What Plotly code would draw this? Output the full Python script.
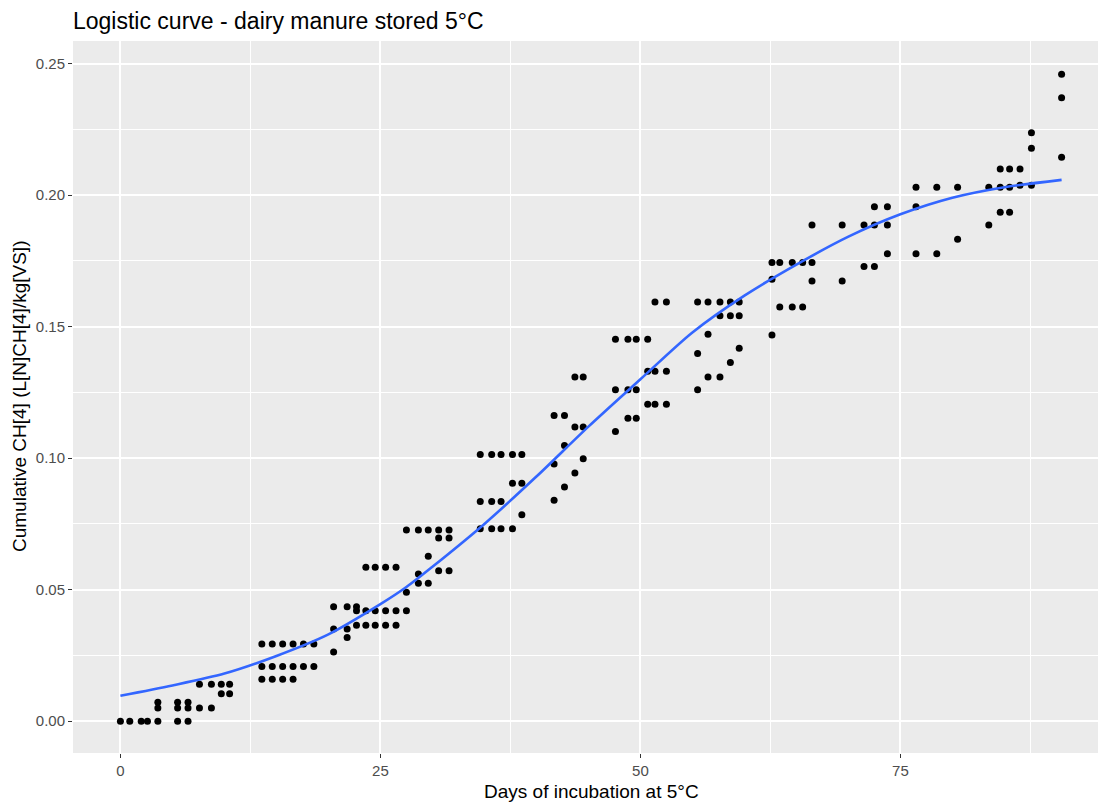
import plotly.graph_objects as go

# ---- data ----
days = [
    0, 0.9, 2.0, 2.6,
    3.6, 3.6, 3.6, 5.5, 5.5, 5.5, 6.5, 6.5, 6.5,
    7.6, 7.6, 8.75, 8.75, 9.7, 9.7, 10.5, 10.5,
    13.6, 13.6, 13.6, 14.6, 14.6, 14.6, 15.6, 15.6, 15.6, 16.6, 16.6, 16.6,
    17.6, 17.6, 18.6, 18.6,
    20.5, 20.5, 20.5, 21.8, 21.8, 21.8, 22.7, 22.7, 22.7,
    23.6, 23.6, 23.6, 24.5, 24.5, 24.5, 25.5, 25.5, 25.5, 26.5, 26.5, 26.5,
    27.5, 27.5, 27.5, 28.65, 28.65, 28.65, 29.6, 29.6, 29.6,
    30.6, 30.6, 30.6, 31.6, 31.6, 31.6,
    34.6, 34.6, 34.6, 35.7, 35.7, 35.7, 36.6, 36.6, 36.6,
    37.7, 37.7, 37.7, 38.6, 38.6, 38.6,
    41.7, 41.7, 41.7, 42.7, 42.7, 42.7, 43.7, 43.7, 43.7, 44.5, 44.5, 44.5,
    47.6, 47.6, 47.6, 48.8, 48.8, 48.8, 49.6, 49.6, 49.6,
    50.7, 50.7, 50.7, 51.4, 51.4, 51.4, 52.5, 52.5, 52.5,
    55.5, 55.5, 55.5, 56.5, 56.5, 56.5, 57.65, 57.65, 57.65,
    58.65, 58.65, 58.65, 59.5, 59.5, 59.5,
    62.65, 62.65, 62.65, 63.4, 63.4, 64.6, 64.6, 65.6, 65.6,
    66.5, 66.5, 66.5, 69.4, 69.4, 71.5, 71.5,
    72.5, 72.5, 72.5, 73.75, 73.75, 73.75,
    76.5, 76.5, 76.5, 78.5, 78.5, 80.5, 80.5, 83.5, 83.5,
    84.6, 84.6, 84.6, 85.5, 85.5, 85.5, 86.5, 86.5,
    87.6, 87.6, 87.6, 90.5, 90.5, 90.5,
]
ch4 = [
    0, 0, 0, 0,
    0, 0.005, 0.0072, 0, 0.005, 0.0072, 0, 0.005, 0.0072,
    0.005, 0.014, 0.005, 0.014, 0.014, 0.0104, 0.014, 0.0104,
    0.0159, 0.0208, 0.0293, 0.0159, 0.0208, 0.0293, 0.0159, 0.0208, 0.0293, 0.0159, 0.0208, 0.0293,
    0.0208, 0.0293, 0.0208, 0.0293,
    0.0263, 0.035, 0.0435, 0.0318, 0.035, 0.0435, 0.0365, 0.042, 0.0435,
    0.0365, 0.042, 0.0585, 0.0365, 0.042, 0.0585, 0.0365, 0.042, 0.0585, 0.0365, 0.042, 0.0585,
    0.042, 0.049, 0.0727, 0.0524, 0.056, 0.0727, 0.0524, 0.0627, 0.0727,
    0.0572, 0.0696, 0.0727, 0.0572, 0.0696, 0.0727,
    0.0732, 0.0835, 0.1014, 0.0732, 0.0835, 0.1014, 0.0732, 0.0835, 0.1014,
    0.0732, 0.0905, 0.1014, 0.0785, 0.0905, 0.1014,
    0.084, 0.0978, 0.1162, 0.089, 0.1048, 0.1162, 0.0944, 0.1118, 0.1309, 0.0998, 0.1118, 0.1309,
    0.1101, 0.126, 0.1452, 0.1152, 0.126, 0.1452, 0.1152, 0.126, 0.1452,
    0.1205, 0.133, 0.1452, 0.1205, 0.133, 0.1594, 0.1205, 0.133, 0.1594,
    0.126, 0.1398, 0.1594, 0.1309, 0.1471, 0.1594, 0.1309, 0.1541, 0.1594,
    0.1364, 0.1541, 0.1594, 0.1418, 0.1541, 0.1594,
    0.1468, 0.168, 0.1744, 0.1575, 0.1744, 0.1575, 0.1744, 0.1575, 0.1744,
    0.1674, 0.1744, 0.1886, 0.1674, 0.1886, 0.1729, 0.1886,
    0.1729, 0.1886, 0.1956, 0.1777, 0.1886, 0.1956,
    0.1777, 0.1956, 0.203, 0.1777, 0.203, 0.1832, 0.203, 0.1886, 0.203,
    0.1935, 0.203, 0.2099, 0.1935, 0.203, 0.2099, 0.2038, 0.2099,
    0.2038, 0.2178, 0.2237, 0.2144, 0.237, 0.246,
]

# fitted logistic curve
curve_days = [0, 5, 10, 15, 20, 25, 27.5, 30, 35, 40, 45, 50, 55, 60, 65, 70, 75, 80, 85, 90.5]
curve_vals = [0.0097, 0.0136, 0.0181, 0.0248, 0.0330, 0.0445, 0.051, 0.0587, 0.075, 0.093,
              0.112, 0.130, 0.1478, 0.1618, 0.1736, 0.1842, 0.1927, 0.1990, 0.2030, 0.2058]

x_ticks = [0, 25, 50, 75]
y_ticks = [0.00, 0.05, 0.10, 0.15, 0.20, 0.25]
y_tick_text = ["0.00", "0.05", "0.10", "0.15", "0.20", "0.25"]

title_text = "Logistic curve - dairy manure stored 5°C"
x_title = "Days of incubation at 5°C"
y_title = "Cumulative CH[4] (L[N]CH[4]/kg[VS])"

FONT = "Liberation Sans, Arial, sans-serif"

fig = go.Figure()
fig.add_trace(go.Scatter(
    x=days, y=ch4, mode="markers",
    marker=dict(color="black", size=7, line=dict(width=0)),
    showlegend=False, hoverinfo="x+y",
))
fig.add_trace(go.Scatter(
    x=curve_days, y=curve_vals, mode="lines",
    line=dict(color="#3366FF", width=2.6, shape="spline", smoothing=0.8),
    showlegend=False,
))

W, H = 1098, 805
L, R, T, B = 73, 0, 41, 52
pw, ph = W - L - R, H - T - B

axis_common = dict(
    showgrid=True, gridcolor="white", gridwidth=2,
    zeroline=False, showline=False,
    ticks="outside", ticklen=4, tickwidth=1.4, tickcolor="#333333",
    tickfont=dict(family=FONT, size=15, color="#4D4D4D"),
    automargin=False,
)

fig.update_layout(
    width=W, height=H,
    margin=dict(l=L, r=R, t=T, b=B, pad=0),
    paper_bgcolor="white", plot_bgcolor="#EBEBEB",
    font=dict(family=FONT),
    title=dict(text=title_text, x=0, xanchor="left", xref="paper",
               y=1 - 21 / H, yanchor="middle", yref="container",
               font=dict(family=FONT, size=23, color="black")),
    xaxis=dict(range=[-4.56, 94.0], tickvals=x_ticks,
               ticktext=[str(v) for v in x_ticks],
               minor=dict(dtick=12.5, tick0=0, showgrid=True, gridcolor="white",
                          gridwidth=1, ticks=""),
               **axis_common),
    yaxis=dict(range=[-0.0121, 0.2586], tickvals=y_ticks, ticktext=y_tick_text,
               minor=dict(dtick=0.025, tick0=0, showgrid=True, gridcolor="white",
                          gridwidth=1, ticks=""),
               **axis_common),
    annotations=[
        dict(text=x_title, xref="paper", yref="paper",
             x=(591 - L) / pw, y=-(791 - (T + ph)) / ph,
             xanchor="center", yanchor="middle", showarrow=False,
             font=dict(family=FONT, size=19, color="black")),
        dict(text=y_title, xref="paper", yref="paper",
             x=-(L - 19) / pw, y=1 - (397 - T) / ph, textangle=-90,
             xanchor="center", yanchor="middle", showarrow=False,
             font=dict(family=FONT, size=19, color="black")),
    ],
)

fig.write_html("out.html")
